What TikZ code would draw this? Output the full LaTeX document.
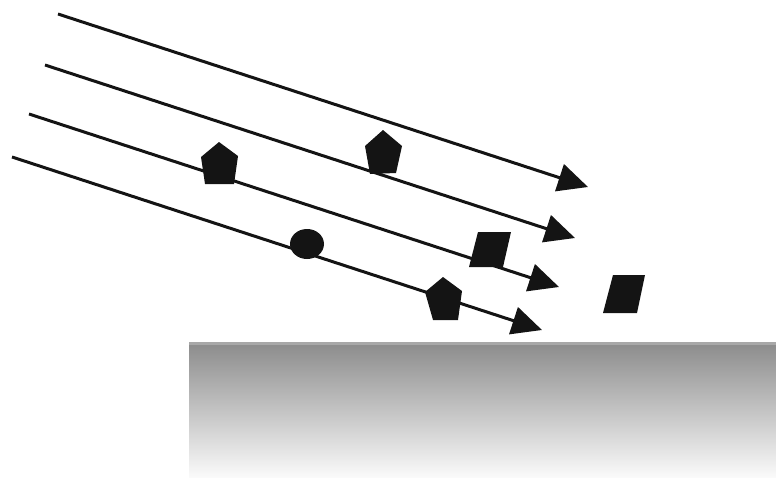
\documentclass[tikz,border=0pt]{standalone}
\usetikzlibrary{arrows.meta}
\definecolor{ink}{HTML}{141414}
\definecolor{blocktop}{HTML}{8C8C8C}
\definecolor{blockbot}{HTML}{FAFAFA}
\definecolor{blockedge}{HTML}{A8A8A8}
\tikzset{
  ray/.style={draw=ink, line width=3pt, -{Triangle[length=30pt,width=28pt]}},
  particle/.style={fill=ink, draw=none}
}
\begin{document}
\begin{tikzpicture}[x=1pt,y=-1pt]
\useasboundingbox (0,0) rectangle (776,477);
% surface block
\shade[top color=blocktop, bottom color=blockbot] (189,343) rectangle (776,477);
\fill[blockedge] (189,341.5) rectangle (776,344.5);
% rays
\coordinate (s1) at (58,14);  \coordinate (e1) at (588,187);
\coordinate (s2) at (45,65);  \coordinate (e2) at (575,238);
\coordinate (s3) at (29,114); \coordinate (e3) at (559,287);
\coordinate (s4) at (12,157); \coordinate (e4) at (542,330);
\draw[ray] (s1) -- (e1);
\draw[ray] (s2) -- (e2);
\draw[ray] (s3) -- (e3);
\draw[ray] (s4) -- (e4);
% particles
\fill[particle] (219,142) -- (238,156) -- (234,184) -- (205,184) -- (201,157) -- cycle;
\fill[particle] (383,130) -- (402,146) -- (396,173) -- (370,174) -- (365,146) -- cycle;
\fill[particle] (307,244) ellipse[x radius=17, y radius=15];
\fill[particle] (478,232) -- (511,232) -- (503,267) -- (469,267) -- cycle;
\fill[particle] (443,277) -- (462,291) -- (458,320) -- (433,320) -- (425,292) -- cycle;
\fill[particle] (613,275) -- (645,275) -- (637,313) -- (603,313) -- cycle;
\end{tikzpicture}
\end{document}
